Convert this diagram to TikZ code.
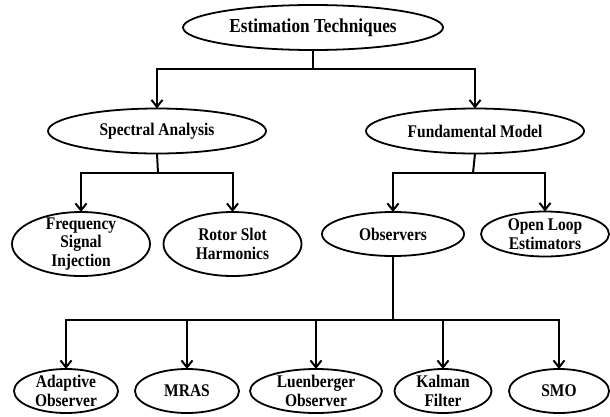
\documentclass[tikz,border=0pt]{standalone}
\usepackage{fontspec}
\setmainfont{Liberation Serif}[FakeStretch=0.87]
\usetikzlibrary{shapes.geometric,arrows.meta}
\begin{document}
\begin{tikzpicture}[x=1pt,y=-1pt,
  elli/.style={draw=black,line width=1.8pt,ellipse,inner sep=0pt,outer sep=0pt},
  lbl/.style={font=\fontsize{17.8}{18.5}\selectfont\bfseries,align=center,inner sep=0pt},
  conn/.style={line width=2pt},
  arr/.style={conn,-{Straight Barb[length=7pt,width=11pt,line width=2pt]}}]
\useasboundingbox (0,0) rectangle (610,416);
% level 0
\node[elli,minimum width=260,minimum height=45] (top) at (313,27.5) {};
\node[lbl,font=\fontsize{19.8}{20}\selectfont\bfseries] (topt) at (top) {Estimation Techniques};
% level 1
\node[elli,minimum width=218,minimum height=45] (spec) at (157,131) {};
\node[lbl] (spect) at (spec) {Spectral Analysis};
\node[elli,minimum width=218,minimum height=45] (fund) at (475,131) {};
\node[lbl] (fundt) at (fund) {Fundamental Model};
% level 2
\node[elli,minimum width=138,minimum height=64] (freq) at (81,244) {};
\node[lbl] (freqt) at (freq) {Frequency\\Signal\\Injection};
\node[elli,minimum width=138,minimum height=64] (rotor) at (232.5,244) {};
\node[lbl] (rotort) at (rotor) {Rotor Slot\\Harmonics};
\node[elli,minimum width=142,minimum height=44] (obs) at (393,234) {};
\node[lbl] (obst) at (obs) {Observers};
\node[elli,minimum width=128,minimum height=45] (open) at (545,234) {};
\node[lbl] (opent) at (open) {Open Loop\\Estimators};
% level 3
\node[elli,minimum width=104,minimum height=44] (adapt) at (66,391) {};
\node[lbl] (adaptt) at (adapt) {Adaptive\\Observer};
\node[elli,minimum width=104,minimum height=44] (mras) at (187,391) {};
\node[lbl] (mrast) at (mras) {MRAS};
\node[elli,minimum width=132,minimum height=44] (luen) at (316,391) {};
\node[lbl] (luent) at (luen) {Luenberger\\Observer};
\node[elli,minimum width=97,minimum height=44] (kalman) at (443,391) {};
\node[lbl] (kalmant) at (kalman) {Kalman\\Filter};
\node[elli,minimum width=100,minimum height=44] (smo) at (559,391) {};
\node[lbl] (smot) at (smo) {SMO};
% junctions
\coordinate (j0) at (313,69);
\coordinate (j1) at (158,173);
\coordinate (j2) at (473,173);
\coordinate (j3) at (393,320);
% connectors
\draw[conn] (top.south) -- (j0);
\draw[arr] (j0) -| (spec.north);
\draw[arr] (j0) -| (fund.north);
\draw[conn] (spec.south) -- (j1);
\draw[arr] (j1) -| (freq.north);
\draw[arr] (j1) -| (rotor.north);
\draw[conn] (fund.south) -- (j2);
\draw[arr] (j2) -| (obs.north);
\draw[arr] (j2) -| (open.north);
\draw[conn] (obs.south) -- (j3);
\draw[arr] (j3) -| (adapt.north);
\draw[arr] (j3) -| (mras.north);
\draw[arr] (j3) -| (luen.north);
\draw[arr] (j3) -| (kalman.north);
\draw[arr] (j3) -| (smo.north);
\end{tikzpicture}
\end{document}
